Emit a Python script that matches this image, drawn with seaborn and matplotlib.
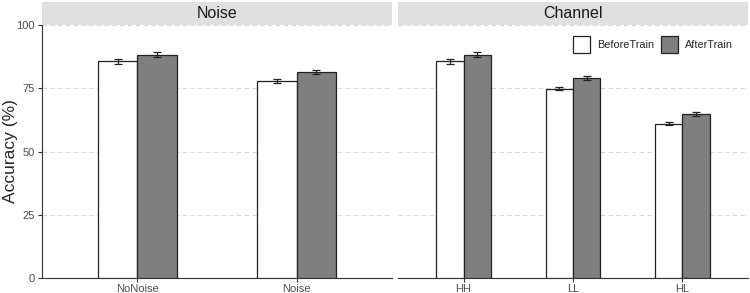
import matplotlib
matplotlib.use("Agg")
import matplotlib.pyplot as plt
import matplotlib.patches as mpatches
import pandas as pd
import seaborn as sns

# =============================================================================
# data
# =============================================================================
noise_conditions = ["NoNoise", "Noise"]
noise_before = [85.6, 77.9]
noise_after = [88.3, 81.5]
noise_before_err = [0.9, 0.8]
noise_after_err = [0.9, 0.8]

channel_conditions = ["HH", "LL", "HL"]
channel_before = [85.6, 74.9, 60.9]
channel_after = [88.3, 79.1, 64.8]
channel_before_err = [0.9, 0.7, 0.6]
channel_after_err = [0.9, 0.8, 0.7]

phases = ["BeforeTrain", "AfterTrain"]
phase_colors = {"BeforeTrain": "white", "AfterTrain": "#7f7f7f"}
panel_titles = ["Noise", "Channel"]
y_ticks = [0, 25, 50, 75, 100]


def make_df(conds, before, after, before_err, after_err):
    rows = []
    for c, b, a, be, ae in zip(conds, before, after, before_err, after_err):
        rows.append({"Condition": c, "Phase": "BeforeTrain", "Accuracy": b, "err": be})
        rows.append({"Condition": c, "Phase": "AfterTrain", "Accuracy": a, "err": ae})
    return pd.DataFrame(rows)


panels = [
    make_df(noise_conditions, noise_before, noise_after, noise_before_err, noise_after_err),
    make_df(channel_conditions, channel_before, channel_after, channel_before_err, channel_after_err),
]

# =============================================================================
# plotting
# =============================================================================
sns.set_theme(style="white")
plt.rcParams["font.family"] = ["Liberation Sans", "DejaVu Sans"]

fig = plt.figure(figsize=(7.5, 2.93), dpi=100)
W, H = 750, 293
panel_x = [(42, 392), (398, 748)]
y_top, y_bot = 25, 278
strip_top = 2

axes = []
for (x0, x1) in panel_x:
    ax = fig.add_axes([x0 / W, 1 - y_bot / H, (x1 - x0) / W, (y_bot - y_top) / H])
    axes.append(ax)

for i, (ax, df) in enumerate(zip(axes, panels)):
    conds = list(df["Condition"].unique())
    sns.barplot(
        data=df, x="Condition", y="Accuracy", hue="Phase",
        order=conds, hue_order=phases, palette=phase_colors,
        width=0.5, edgecolor="#222222", linewidth=0.9,
        errorbar=None, ax=ax, legend=False, zorder=3,
    )
    # error bars at the bar centres
    for patch_container, phase in zip(ax.containers, phases):
        sub = df[df["Phase"] == phase].set_index("Condition").loc[conds]
        xs = [p.get_x() + p.get_width() / 2 for p in patch_container]
        ax.errorbar(xs, sub["Accuracy"], yerr=sub["err"], fmt="none",
                    ecolor="#222222", elinewidth=0.9, capsize=2.8, capthick=0.9, zorder=4)

    ax.set_xlim(-0.6, len(conds) - 0.4)
    ax.set_ylim(0, 100)
    ax.set_yticks(y_ticks)
    for yv in y_ticks:
        ax.axhline(yv, color="#d9d9d9", linestyle=(0, (4, 3)), linewidth=0.8, zorder=0)
    ax.set_xlabel("")
    ax.set_ylabel("")
    for side in ["top", "right"]:
        ax.spines[side].set_visible(False)
    ax.spines["bottom"].set_color("#333333")
    ax.spines["bottom"].set_linewidth(0.8)
    if i == 0:
        ax.spines["left"].set_color("#333333")
        ax.spines["left"].set_linewidth(0.8)
        ax.tick_params(axis="y", left=True, length=3, width=0.8, color="#333333",
                       labelsize=8, labelcolor="#4d4d4d", pad=2)
        ax.set_ylabel("Accuracy (%)", fontsize=12.5, va="center")
        ax.yaxis.set_label_coords((11 - 42) / 350, 0.5)
    else:
        ax.spines["left"].set_visible(False)
        ax.tick_params(axis="y", left=False, labelleft=False)
    ax.tick_params(axis="x", bottom=True, length=3, width=0.8, color="#333333",
                   labelsize=8, labelcolor="#4d4d4d", pad=1)

    # facet strip
    strip_h = (y_top - strip_top) / (y_bot - y_top)
    ax.add_patch(mpatches.Rectangle((0, 1), 1, strip_h, transform=ax.transAxes,
                                    facecolor="#e0e0e0", edgecolor="none", clip_on=False))
    ax.text(0.5, 1 + strip_h / 2, panel_titles[i], transform=ax.transAxes,
            ha="center", va="center", fontsize=11.5, color="#1a1a1a")

handles = [mpatches.Patch(facecolor=phase_colors[p], edgecolor="#222222", linewidth=0.9, label=p)
           for p in phases]
axes[1].legend(handles=handles, loc="upper right", bbox_to_anchor=(0.98, 0.985), ncol=2,
               frameon=False, fontsize=7.8, handlelength=1.6, handleheight=2.0,
               columnspacing=0.65, handletextpad=0.65, borderaxespad=0.3)

plt.savefig("out.png", dpi=100)
